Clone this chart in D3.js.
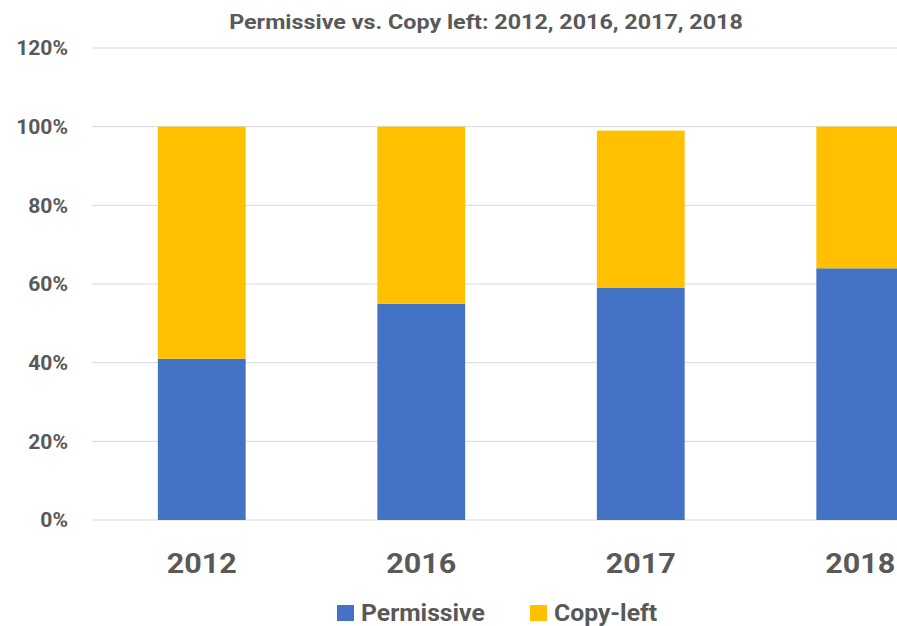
<!DOCTYPE html>
<html>
<head>
<meta charset="utf-8">
<script src="https://cdn.jsdelivr.net/npm/d3@7"></script>
<style>
	body { margin: 0; background: #fff; }
	text { font-family: Roboto, "Open Sans", sans-serif; font-weight: bold; fill: #595959; }
</style>
</head>
<body>
<svg id="chart"></svg>
<script>
const years = ["2012", "2016", "2017", "2018"];
const permissive = [0.41, 0.55, 0.59, 0.64];
const copyleft = [0.59, 0.45, 0.40, 0.36];
const seriesNames = ["Permissive", "Copy-left"];
const seriesColors = ["#4472C4", "#FFC000"];
const yTicks = [0, 0.2, 0.4, 0.6, 0.8, 1.0, 1.2];

const width = 897, height = 626;
const svg = d3.select("#chart")
	.attr("width", width)
	.attr("height", height);

// the source picture is a bit wider than tall, so widen the glyphs a little
function stretch(sel, factor) {
	sel.each(function() {
		const len = this.getComputedTextLength();
		d3.select(this)
			.attr("textLength", len * factor)
			.attr("lengthAdjust", "spacingAndGlyphs");
	});
}

// plot runs past the right edge, like the cropped original
const x = d3.scaleBand()
	.domain(years)
	.range([92, 970])
	.paddingInner(0.6)
	.paddingOuter(0.3);

const y = d3.scaleLinear()
	.domain([0, 1.2])
	.range([520, 48]);

// gridlines
svg.append("g")
	.selectAll("line")
	.data(yTicks)
	.enter()
	.append("line")
	.attr("x1", 92)
	.attr("x2", width)
	.attr("y1", d => y(d))
	.attr("y2", d => y(d))
	.attr("stroke", "#d9d9d9")
	.attr("stroke-width", 1);

// y axis labels
const yAxis = svg.append("g")
	.attr("transform", "translate(68,0)")
	.call(d3.axisLeft(y).tickValues(yTicks).tickFormat(d3.format(".0%")).tickSize(0).tickPadding(0));
yAxis.select(".domain").remove();
yAxis.selectAll("text")
	.attr("font-size", 19.5)
	.attr("font-family", null)
	.attr("dy", "0.35em")
	.style("fill", "#595959")
	.call(stretch, 1.08);

// stacked bars
const rows = years.map(function(yr, i) {
	return { year: yr, Permissive: permissive[i], "Copy-left": copyleft[i] };
});
const stacked = d3.stack().keys(seriesNames)(rows);

svg.append("g")
	.selectAll("g")
	.data(stacked)
	.enter()
	.append("g")
	.attr("fill", (d, i) => seriesColors[i])
	.selectAll("rect")
	.data(d => d)
	.enter()
	.append("rect")
	.attr("x", d => x(d.data.year))
	.attr("width", x.bandwidth())
	.attr("y", d => y(d[1]))
	.attr("height", d => y(d[0]) - y(d[1]));

// x axis labels
const xAxis = svg.append("g")
	.attr("transform", "translate(0,573)")
	.call(d3.axisBottom(x).tickSize(0).tickPadding(0));
xAxis.select(".domain").remove();
xAxis.selectAll("text")
	.attr("font-size", 28)
	.attr("font-family", null)
	.attr("y", 0)
	.attr("dy", 0)
	.style("fill", "#595959")
	.call(stretch, 1.09);

// title
svg.append("text")
	.attr("x", 486)
	.attr("y", 29)
	.attr("text-anchor", "middle")
	.attr("font-size", 21)
	.text("Permissive vs. Copy left: 2012, 2016, 2017, 2018")
	.call(stretch, 1.11);

// legend
const legendX = [337, 530];
const legend = svg.append("g")
	.selectAll("g")
	.data(seriesNames)
	.enter()
	.append("g")
	.attr("transform", (d, i) => "translate(" + legendX[i] + ",605)");
legend.append("rect")
	.attr("width", 17)
	.attr("height", 16)
	.attr("fill", (d, i) => seriesColors[i]);
legend.append("text")
	.attr("x", 24)
	.attr("y", 16)
	.attr("font-size", 24)
	.text(d => d)
	.call(stretch, 1.03);
</script>
</body>
</html>
